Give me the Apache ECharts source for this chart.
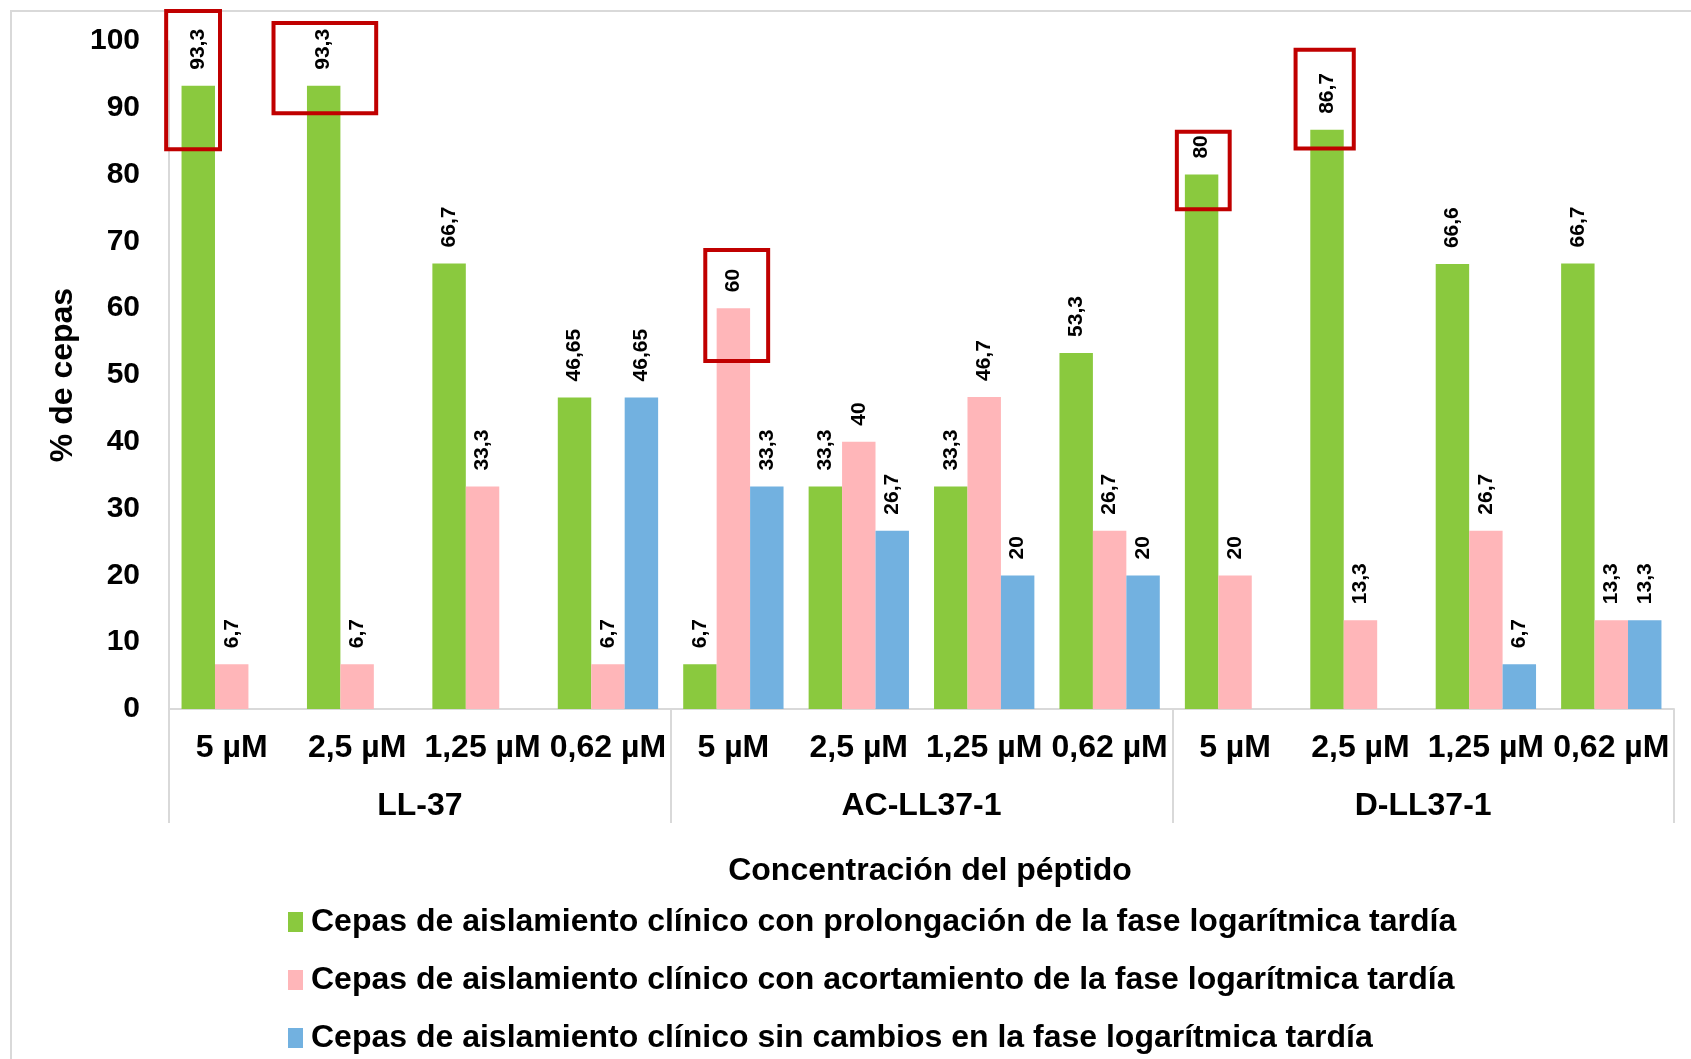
<!DOCTYPE html>
<html>
<head>
<meta charset="utf-8">
<script src="https://cdn.jsdelivr.net/npm/echarts@6/dist/echarts.min.js"></script>
<style>
  html, body { margin: 0; padding: 0; background: #ffffff; }
  #chart { width: 1691px; height: 1059px; }
</style>
</head>
<body>
<div id="chart"></div>
<script>
// Concentrations tested for each peptide (inner axis) and the peptides (outer axis)
const concentraciones = ['5 µM', '2,5 µM', '1,25 µM', '0,62 µM',
                         '5 µM', '2,5 µM', '1,25 µM', '0,62 µM',
                         '5 µM', '2,5 µM', '1,25 µM', '0,62 µM'];
const peptidos = ['LL-37', 'AC-LL37-1', 'D-LL37-1'];

const nombresSeries = [
  'Cepas de aislamiento clínico con prolongación de la fase logarítmica tardía',
  'Cepas de aislamiento clínico con acortamiento de la fase logarítmica tardía',
  'Cepas de aislamiento clínico sin cambios en la fase logarítmica tardía'
];

// % of strains per group ('-' = no bar)
const prolongacion = [93.3, 93.3, 66.7, 46.65, 6.7, 33.3, 33.3, 53.3, 80, 86.7, 66.6, 66.7];
const acortamiento = [6.7, 6.7, 33.3, 6.7, 60, 40, 46.7, 26.7, 20, 13.3, 26.7, 13.3];
const sinCambios   = ['-', '-', '-', 46.65, 33.3, 26.7, 20, 20, '-', '-', 6.7, 13.3];

const yMin = 0, yMax = 100, yStep = 10;

// Highlighted results: series, category, value range covered, side padding in bar widths
const destacados = [
  { serie: 0, idx: 0, desde: 83.8, hasta: 104.5, izq: 0.46, der: 0.15 },
  { serie: 0, idx: 1, desde: 89.2, hasta: 102.7, izq: 1.0,  der: 1.07 },
  { serie: 1, idx: 4, desde: 52.1, hasta: 68.7,  izq: 0.34, der: 0.54 },
  { serie: 0, idx: 8, desde: 74.8, hasta: 86.4,  izq: 0.24, der: 0.34 },
  { serie: 0, idx: 9, desde: 83.9, hasta: 98.7,  izq: 0.44, der: 0.30 }
];

const colores = ['#8AC93E', '#FFB6B9', '#72B1E0'];
const FONT = '"Liberation Sans", Arial, sans-serif';
const gris = '#D9D9D9';

const chart = echarts.init(document.getElementById('chart'), null, { renderer: 'canvas' });

const etiquetaValor = {
  show: true,
  position: 'top',
  distance: 16,
  rotate: 90,
  align: 'left',
  verticalAlign: 'middle',
  color: '#000',
  fontFamily: FONT,
  fontWeight: 'bold',
  fontSize: 21,
  formatter: p => String(p.value).replace('.', ',')
};

const datos = [prolongacion, acortamiento, sinCambios];

chart.setOption({
  backgroundColor: '#ffffff',
  animation: false,
  color: colores,
  grid: { left: 169, right: 17, top: 41, bottom: 350, containLabel: false },
  legend: {
    orient: 'vertical',
    left: 288,
    top: 906,
    padding: 0,
    itemGap: 26,
    itemWidth: 15,
    itemHeight: 20,
    icon: 'rect',
    selectedMode: false,
    textStyle: { fontFamily: FONT, fontWeight: 'bold', fontSize: 32, color: '#000', lineHeight: 32, padding: [0, 0, 0, 3] },
    data: nombresSeries
  },
  xAxis: [
    {
      type: 'category',
      data: concentraciones,
      position: 'bottom',
      axisLine: { show: true, lineStyle: { color: gris, width: 2 } },
      axisTick: { show: false },
      axisLabel: {
        interval: 0, margin: 23, color: '#000',
        fontFamily: FONT, fontWeight: 'bold', fontSize: 32, lineHeight: 32
      },
      splitLine: { show: false }
    },
    {
      type: 'category',
      data: peptidos,
      position: 'bottom',
      axisLine: { show: false },
      axisTick: { show: true, length: 114, lineStyle: { color: gris, width: 2 } },
      axisLabel: {
        interval: 0, margin: 81, color: '#000',
        fontFamily: FONT, fontWeight: 'bold', fontSize: 32, lineHeight: 32
      },
      splitLine: { show: false },
      name: 'Concentración del péptido',
      nameLocation: 'middle',
      nameGap: 146,
      nameTextStyle: { color: '#000', fontFamily: FONT, fontWeight: 'bold', fontSize: 32, padding: [0, 0, 0, 17] }
    }
  ],
  yAxis: {
    type: 'value',
    min: yMin, max: yMax, interval: yStep,
    axisLine: { show: true, lineStyle: { color: gris, width: 2 } },
    axisTick: { show: false },
    splitLine: { show: false },
    axisLabel: { margin: 29, color: '#000', fontFamily: FONT, fontWeight: 'bold', fontSize: 30, padding: [4, 0, 0, 0] },
    name: '% de cepas',
    nameLocation: 'middle',
    nameRotate: 90,
    nameGap: 89,
    nameTextStyle: { color: '#000', fontFamily: FONT, fontWeight: 'bold', fontSize: 32 }
  },
  series: nombresSeries.map((n, i) => ({
    name: n,
    type: 'bar',
    xAxisIndex: 0,
    data: datos[i],
    barGap: '0%',
    barCategoryGap: '20%',
    itemStyle: { color: colores[i] },
    label: etiquetaValor
  })),
  graphic: [{
    id: 'marco',
    type: 'rect',
    silent: true,
    shape: { x: 11, y: 11, width: 1720, height: 1100 },
    style: { fill: 'none', stroke: gris, lineWidth: 2 }
  }]
});

// Red frames around the highlighted bars, placed from the bar layout and the value scale
const marcos = destacados.map((d, k) => {
  const lay = chart.getModel().getSeriesByIndex(d.serie).getData().getItemLayout(d.idx);
  const w = Math.abs(lay.width);
  const x0 = Math.min(lay.x, lay.x + lay.width);
  const yTop = chart.convertToPixel({ yAxisIndex: 0 }, d.hasta);
  const yBot = chart.convertToPixel({ yAxisIndex: 0 }, d.desde);
  const left = x0 - d.izq * w;
  const right = x0 + w + d.der * w;
  return {
    id: 'destacado' + k,
    type: 'rect',
    silent: true,
    z: 100,
    shape: { x: left, y: yTop, width: right - left, height: yBot - yTop },
    style: { fill: 'none', stroke: '#C00000', lineWidth: 4 }
  };
});
chart.setOption({ graphic: marcos });
</script>
</body>
</html>
